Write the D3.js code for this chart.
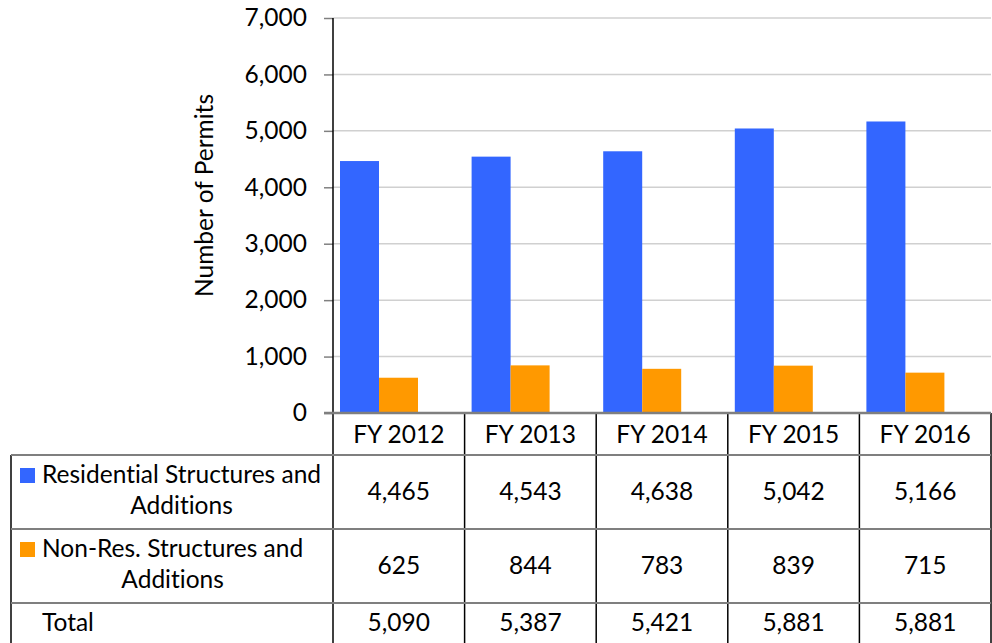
<!doctype html>
<html lang="en">
<head>
  <meta charset="utf-8">
  <title>permits chart</title>
  <style>
    * { margin: 0; padding: 0; box-sizing: border-box; }
    body { background: #fff; }
    svg { display: block; font-family: Lato, "Open Sans", sans-serif; font-variant-ligatures: none; font-feature-settings: "liga" 0; }
  </style>
</head>
<body>
  <div class="chart"></div>
  <script src="https://cdn.jsdelivr.net/npm/d3@7"></script>
  <script>
    // ---------------------------------------------------------------
    //@@ data
    const years = ['FY 2012', 'FY 2013', 'FY 2014', 'FY 2015', 'FY 2016'];
    const residential = [4465, 4543, 4638, 5042, 5166];
    const nonResidential = [625, 844, 783, 839, 715];
    const totalLabels = ['5,090', '5,387', '5,421', '5,881', '5,881'];
    const yTicks = [0, 1000, 2000, 3000, 4000, 5000, 6000, 7000];

    const series = [
      {name: ['Residential Structures and', 'Additions'], values: residential, color: '#3366ff'},
      {name: ['Non-Res. Structures and', 'Additions'], values: nonResidential, color: '#ff9900'}
    ];

    // ---------------------------------------------------------------
    //@@ svg configuration
    const svgDim = {w: 992, h: 643};
    const plot = {l: 333, r: 991, t: 18, b: 413};
    const table = {l: 11, header: 455, rowH: 74};
    const fontSize = 24.5;

    const svg = d3.select('.chart').append('svg')
      .attr('width', svgDim.w)
      .attr('height', svgDim.h)
      .attr('font-size', fontSize);

    //@@ scales
    const scaleX = d3.scaleBand().domain(years).range([plot.l, plot.r]);
    const scaleY = d3.scaleLinear().domain([0, 7000]).range([plot.b, plot.t]);
    // bars sit a little left of the band centre, as in the source chart
    const inner = d3.scaleBand().domain([0, 1]).range([7, 85]);

    //@@ gridlines
    svg.append('g')
      .selectAll('line')
      .data(yTicks.filter(d => d > 0))
      .join('line')
      .attr('x1', plot.l).attr('x2', plot.r)
      .attr('y1', d => scaleY(d)).attr('y2', d => scaleY(d))
      .attr('stroke', '#d0d0d0')
      .attr('stroke-width', 1.5);

    //@@ bars
    series.forEach((s, i) => {
      svg.append('g')
        .selectAll('rect')
        .data(s.values)
        .join('rect')
        .attr('x', (d, j) => scaleX(years[j]) + inner(i))
        .attr('width', inner.bandwidth())
        .attr('y', d => scaleY(d))
        .attr('height', d => scaleY(0) - scaleY(d))
        .attr('fill', s.color);
    });

    //@@ axis Y
    const axisY = d3.axisLeft(scaleY)
      .tickValues(yTicks)
      .tickSize(9)
      .tickPadding(17)
      .tickFormat(d3.format(','));
    const areaAxisY = svg.append('g')
      .attr('transform', `translate(${plot.l},0)`)
      .call(axisY);
    areaAxisY.select('.domain').remove();
    areaAxisY.selectAll('line').attr('stroke', '#808080').attr('stroke-width', 1.5);
    areaAxisY.selectAll('text')
      .attr('font-size', fontSize)
      .attr('font-family', 'Lato, sans-serif')
      .attr('fill', '#000');

    svg.append('line')
      .attr('x1', plot.l).attr('x2', plot.l)
      .attr('y1', plot.t).attr('y2', svgDim.h)
      .attr('stroke', '#000').attr('stroke-width', 1.5);

    //@@ axis title
    svg.append('text')
      .attr('transform', `translate(213,${(93 + 298) / 2}) rotate(-90)`)
      .attr('text-anchor', 'middle')
      .text('Number of Permits');

    // ---------------------------------------------------------------
    //@@ data table
    const rowTops = [table.header, table.header + table.rowH, table.header + 2 * table.rowH];
    const grid = svg.append('g');

    // column separators
    grid.selectAll('line.col')
      .data(years.map(y => scaleX(y) + scaleX.bandwidth()))
      .join('line')
      .attr('x1', d => d).attr('x2', d => d)
      .attr('y1', plot.b).attr('y2', svgDim.h)
      .attr('stroke', '#000').attr('stroke-width', 1.5);

    // left border of table body
    grid.append('line')
      .attr('x1', table.l).attr('x2', table.l)
      .attr('y1', table.header).attr('y2', svgDim.h)
      .attr('stroke', '#000').attr('stroke-width', 1.5);

    // row separators
    grid.selectAll('line.row')
      .data(rowTops)
      .join('line')
      .attr('x1', table.l).attr('x2', plot.r)
      .attr('y1', d => d).attr('y2', d => d)
      .attr('stroke', '#7f7f7f').attr('stroke-width', 2);

    // zero line
    svg.append('line')
      .attr('x1', plot.l - 9).attr('x2', plot.r)
      .attr('y1', plot.b).attr('y2', plot.b)
      .attr('stroke', '#7f7f7f').attr('stroke-width', 2.5);

    //@@ header row (categories)
    svg.append('g')
      .selectAll('text')
      .data(years)
      .join('text')
      .attr('x', d => scaleX(d) + scaleX.bandwidth() / 2)
      .attr('y', 443)
      .attr('text-anchor', 'middle')
      .text(d => d);

    //@@ series rows
    series.forEach((s, i) => {
      const top = rowTops[i];

      svg.append('g')
        .selectAll('text')
        .data(s.values)
        .join('text')
        .attr('x', (d, j) => scaleX(years[j]) + scaleX.bandwidth() / 2)
        .attr('y', top + 45)
        .attr('text-anchor', 'middle')
        .text(d => d3.format(',')(d));

      // legend key
      svg.append('rect')
        .attr('x', 20).attr('y', top + 13)
        .attr('width', 15).attr('height', 15)
        .attr('fill', s.color);

      const line1 = svg.append('text')
        .attr('x', 42).attr('y', top + 28)
        .text(s.name[0]);
      const w = line1.node().getComputedTextLength();
      svg.append('text')
        .attr('x', 42 + w / 2).attr('y', top + 59)
        .attr('text-anchor', 'middle')
        .text(s.name[1]);
    });

    //@@ total row
    svg.append('text')
      .attr('x', 42).attr('y', 631)
      .text('Total');
    svg.append('g')
      .selectAll('text')
      .data(totalLabels)
      .join('text')
      .attr('x', (d, j) => scaleX(years[j]) + scaleX.bandwidth() / 2)
      .attr('y', 631)
      .attr('text-anchor', 'middle')
      .text(d => d);
  </script>
</body>
</html>
